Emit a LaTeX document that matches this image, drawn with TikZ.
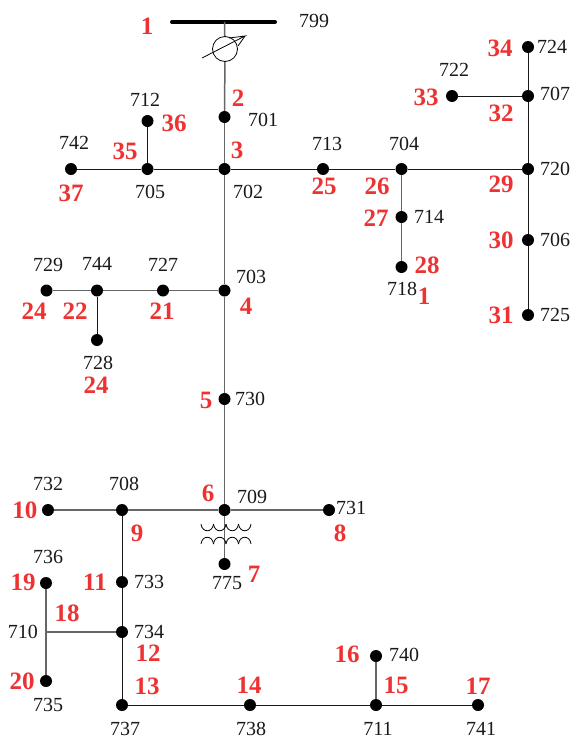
\documentclass[tikz,border=0pt]{standalone}
\usepackage{fontspec}
\setmainfont{Liberation Serif}
\definecolor{numred}{RGB}{238,50,50}
\tikzset{
  bus/.style={circle,fill=black,inner sep=0pt,minimum size=12pt},
  busno/.style={inner sep=0pt,font=\fontsize{20}{20}\selectfont,text=black!90},
  secno/.style={inner sep=0pt,font=\fontsize{25}{25}\selectfont\bfseries,text=numred},
  feeder/.style={line width=1.5pt,draw=black!60},
  lateral/.style={line width=0.9pt,draw=black!90}
}
\begin{document}
\begin{tikzpicture}[x=1pt,y=-1pt]
    \useasboundingbox (0,0) rectangle (577,739);

    % substation and regulator
    \coordinate (barL) at (172,22);
    \coordinate (barR) at (275,22);
    \coordinate (n799) at (224.5,22);
    \node[circle,draw,line width=0.8pt,inner sep=0pt,minimum size=25pt] (reg) at (225,49) {};
    \coordinate (regA) at (202,58);
    \coordinate (regB) at (245,36);
    \coordinate (regC) at (229,38);
    \coordinate (regD) at (238,46);

    % buses
    \node[bus] (n701) at (224.5,117) {};
    \node[bus] (n702) at (224.5,169) {};
    \node[bus] (n705) at (147.5,169) {};
    \node[bus] (n712) at (147.5,121) {};
    \node[bus] (n742) at (71,169) {};
    \node[bus] (n713) at (323,169) {};
    \node[bus] (n704) at (401.5,169) {};
    \node[bus] (n714) at (401.5,217) {};
    \node[bus] (n718) at (401.5,267) {};
    \node[bus] (n720) at (528,169) {};
    \node[bus] (n707) at (528,96) {};
    \node[bus] (n722) at (452,96) {};
    \node[bus] (n724) at (528,47) {};
    \node[bus] (n706) at (528,240) {};
    \node[bus] (n725) at (528,315) {};
    \node[bus] (n703) at (224.5,290.5) {};
    \node[bus] (n727) at (163,290.5) {};
    \node[bus] (n744) at (97,290.5) {};
    \node[bus] (n729) at (46.5,290.5) {};
    \node[bus] (n728) at (97,340) {};
    \node[bus] (n730) at (224.5,399) {};
    \node[bus] (n709) at (224.5,510) {};
    \node[bus] (n731) at (329,510) {};
    \node[bus] (n708) at (122,510) {};
    \node[bus] (n732) at (48,510) {};
    \node[bus] (n775) at (224.5,564) {};
    \node[bus] (n733) at (122,582) {};
    \node[bus] (n734) at (122,632) {};
    \node[bus] (n737) at (122,705) {};
    \node[bus] (n736) at (46,583) {};
    \node[bus] (n735) at (46,681) {};
    \coordinate (n710) at (46,632);
    \node[bus] (n738) at (250,705) {};
    \node[bus] (n711) at (376,705) {};
    \node[bus] (n740) at (376,656) {};
    \node[bus] (n741) at (478,705) {};

    % lines
    \draw[line width=4pt,line cap=round] (barL) -- (barR);
    \draw[feeder] (n799) -- (reg);
    \draw[feeder] (reg) -- (n701);
    \draw[line width=0.8pt] (regA) -- (regB) -- (regC);
    \draw[line width=0.8pt] (regB) -- (regD);
    \draw[feeder] (n701) -- (n702);
    \draw[lateral] (n702) -- (n705);
    \draw[lateral] (n705) -- (n712);
    \draw[lateral] (n705) -- (n742);
    \draw[lateral] (n702) -- (n713);
    \draw[lateral] (n713) -- (n704);
    \draw[lateral] (n704) -- (n720);
    \draw[feeder] (n704) -- (n714);
    \draw[feeder] (n714) -- (n718);
    \draw[lateral] (n720) -- (n707);
    \draw[lateral] (n707) -- (n722);
    \draw[lateral] (n707) -- (n724);
    \draw[lateral] (n720) -- (n706);
    \draw[lateral] (n706) -- (n725);
    \draw[feeder] (n702) -- (n703);
    \draw[feeder] (n703) -- (n727);
    \draw[feeder] (n727) -- (n744);
    \draw[feeder] (n744) -- (n729);
    \draw[lateral] (n744) -- (n728);
    \draw[feeder] (n703) -- (n730);
    \draw[feeder] (n730) -- (n709);
    \draw[feeder] (n709) -- (n731);
    \draw[feeder] (n709) -- (n708);
    \draw[feeder] (n708) -- (n732);
    \draw[feeder] (n709) -- (n775);
    \draw[lateral] (n708) -- (n733);
    \draw[lateral] (n733) -- (n734);
    \draw[lateral] (n734) -- (n737);
    \draw[feeder] (n734) -- (n710);
    \draw[feeder] (n736) -- (n710);
    \draw[feeder] (n710) -- (n735);
    \draw[lateral] (n737) -- (n738);
    \draw[lateral] (n738) -- (n711);
    \draw[feeder] (n711) -- (n740);
    \draw[lateral] (n711) -- (n741);

    % transformer windings
    \foreach \k in {0,1,2,3} {
        \draw[line width=0.8pt] (201+12.5*\k,524) .. controls (202+12.5*\k,533) and (212.5+12.5*\k,533) .. (213.5+12.5*\k,524);
        \draw[line width=0.8pt] (201+12.5*\k,544) .. controls (202+12.5*\k,535) and (212.5+12.5*\k,535) .. (213.5+12.5*\k,544);
    }

    % bus numbers
    \node[busno] (t799) at (314,21) {799};
    \node[busno] (t701) at (263,120) {701};
    \node[busno] (t712) at (145,100) {712};
    \node[busno] (t742) at (74,143) {742};
    \node[busno] (t705) at (150,192) {705};
    \node[busno] (t702) at (248,192) {702};
    \node[busno] (t713) at (327,144) {713};
    \node[busno] (t704) at (404,144) {704};
    \node[busno] (t714) at (429,217) {714};
    \node[busno] (t718) at (402,289) {718};
    \node[busno] (t720) at (555,169) {720};
    \node[busno] (t722) at (454,70) {722};
    \node[busno] (t707) at (555,94) {707};
    \node[busno] (t724) at (552,47) {724};
    \node[busno] (t706) at (555,240) {706};
    \node[busno] (t725) at (555,315) {725};
    \node[busno] (t729) at (48,265) {729};
    \node[busno] (t744) at (97,264) {744};
    \node[busno] (t727) at (163,265) {727};
    \node[busno] (t703) at (251,277) {703};
    \node[busno] (t728) at (98,363) {728};
    \node[busno] (t730) at (250,399) {730};
    \node[busno] (t732) at (48,484) {732};
    \node[busno] (t708) at (124,484) {708};
    \node[busno] (t709) at (252,497) {709};
    \node[busno] (t731) at (351,508) {731};
    \node[busno] (t775) at (227,583) {775};
    \node[busno] (t736) at (48,557) {736};
    \node[busno] (t733) at (149,582) {733};
    \node[busno] (t710) at (23,632) {710};
    \node[busno] (t734) at (149,632) {734};
    \node[busno] (t735) at (48,705) {735};
    \node[busno] (t737) at (125,729) {737};
    \node[busno] (t738) at (251,729) {738};
    \node[busno] (t740) at (404,655) {740};
    \node[busno] (t711) at (378,729) {711};
    \node[busno] (t741) at (481,729) {741};

    % section numbers
    \node[secno] (s1) at (147,26) {1};
    \node[secno] (s2) at (238,98) {2};
    \node[secno] (s3) at (237,150) {3};
    \node[secno] (s4) at (246,306) {4};
    \node[secno] (s5) at (206,400) {5};
    \node[secno] (s6) at (208,493) {6};
    \node[secno] (s7) at (254,574) {7};
    \node[secno] (s8) at (340,533) {8};
    \node[secno] (s9) at (137,533) {9};
    \node[secno] (s10) at (25,510) {10};
    \node[secno] (s11) at (95,582) {11};
    \node[secno] (s12) at (148,653) {12};
    \node[secno] (s13) at (147,686) {13};
    \node[secno] (s14) at (249,685) {14};
    \node[secno] (s15) at (396,685) {15};
    \node[secno] (s16) at (347,654) {16};
    \node[secno] (s17) at (478,686) {17};
    \node[secno] (s18) at (67,613) {18};
    \node[secno] (s19) at (23,582) {19};
    \node[secno] (s20) at (22,681) {20};
    \node[secno] (s21) at (162,311) {21};
    \node[secno] (s22) at (75,311) {22};
    \node[secno] (s24a) at (34,311) {24};
    \node[secno] (s24b) at (96,385) {24};
    \node[secno] (s25) at (324,186) {25};
    \node[secno] (s26) at (377,186) {26};
    \node[secno] (s27) at (376,218) {27};
    \node[secno] (s28) at (427,265) {28};
    \node[secno] (s1b) at (424,296) {1};
    \node[secno] (s29) at (501,184) {29};
    \node[secno] (s30) at (501,240) {30};
    \node[secno] (s31) at (501,315) {31};
    \node[secno] (s32) at (501,113) {32};
    \node[secno] (s33) at (426,97) {33};
    \node[secno] (s34) at (500,48) {34};
    \node[secno] (s35) at (125,151) {35};
    \node[secno] (s36) at (174,123) {36};
    \node[secno] (s37) at (71,193) {37};
\end{tikzpicture}
\end{document}
